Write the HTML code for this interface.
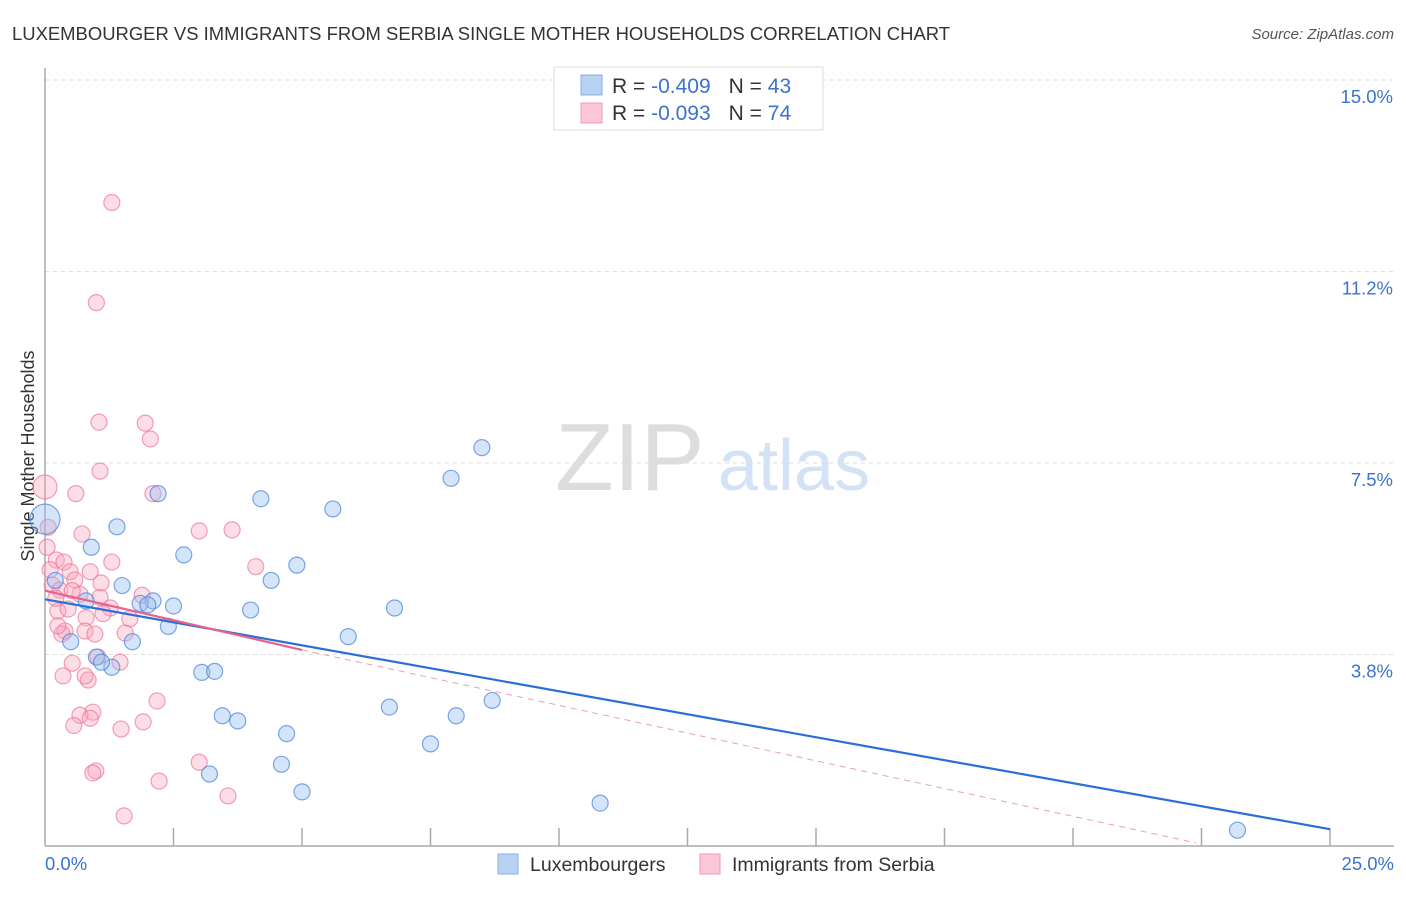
<!DOCTYPE html>
<html><head><meta charset="utf-8"><style>
body{margin:0;background:#fff;font-family:"Liberation Sans",sans-serif;}
svg text{font-family:"Liberation Sans",sans-serif;}
</style></head><body>
<svg id="c" width="1406" height="892">
<text x="12" y="40" font-size="18" fill="#333" textLength="938" lengthAdjust="spacingAndGlyphs">LUXEMBOURGER VS IMMIGRANTS FROM SERBIA SINGLE MOTHER HOUSEHOLDS CORRELATION CHART</text>
<text x="1394" y="39" font-size="15" fill="#555" text-anchor="end" font-style="italic">Source: ZipAtlas.com</text>
<text x="555" y="490" font-size="96" fill="#ddd" font-family="Liberation Serif">ZIP</text>
<text x="718" y="490" font-size="72" fill="#d3e2f5">atlas</text>
<text transform="translate(34,456) rotate(-90)" font-size="18" fill="#333" text-anchor="middle">Single Mother Households</text>
<g id="grid"></g><g id="pts"></g><g id="lines"></g>
<g>
<rect x="554" y="67" width="269" height="63" fill="#fff" stroke="#ddd"/>
<rect x="581" y="75" width="21" height="20" fill="#b8d2f3" stroke="#88aee6"/>
<rect x="581" y="103" width="21" height="20" fill="#fcc8d7" stroke="#f09ab3"/>
<text x="612" y="93" font-size="21" fill="#333">R = <tspan fill="#3a73d0">-0.409</tspan><tspan dx="18">N = </tspan><tspan fill="#3a73d0">43</tspan></text>
<text x="612" y="120" font-size="21" fill="#333">R = <tspan fill="#3a73d0">-0.093</tspan><tspan dx="18">N = </tspan><tspan fill="#3a73d0">74</tspan></text>
</g>
<g>
<rect x="498" y="854" width="20" height="20" fill="#b8d2f3" stroke="#88aee6"/>
<text x="530" y="871" font-size="19.5" fill="#333">Luxembourgers</text>
<rect x="700" y="854" width="20" height="20" fill="#fcc8d7" stroke="#f09ab3"/>
<text x="732" y="871" font-size="19.5" fill="#333">Immigrants from Serbia</text>
</g>
</svg>
<script>
const yTicks=[15.0,11.25,7.5,3.75];
const yTickLabels=["15.0%","11.2%","7.5%","3.8%"];
const xTickLabels=["0.0%","25.0%"];
const luxX=[0,1.4,0.9,2.7,2.2,4.2,5.6,8.5,7.9,1.5,2.1,1.85,2.5,2.0,0.8,2.4,1.7,0.5,4.0,6.8,5.9,4.4,4.9,1.0,1.3,1.1,3.05,3.3,3.45,3.75,4.7,6.7,8.0,8.7,7.5,4.6,3.2,5.0,10.8,23.2,0.2];
const luxY=[6.4,6.25,5.85,5.7,6.9,6.8,6.6,7.8,7.2,5.1,4.8,4.75,4.7,4.72,4.8,4.3,4.0,4.0,4.62,4.66,4.1,5.2,5.5,3.7,3.5,3.6,3.4,3.42,2.55,2.45,2.2,2.72,2.55,2.85,2.0,1.6,1.41,1.06,0.84,0.31,5.2];
const luxR=[15,8,8,8,8,8,8,8,8,8,8,8,8,8,8,8,8,8,8,8,8,8,8,8,8,8,8,8,8,8,8,8,8,8,8,8,8,8,8,8,8];
const srbX=[1.3,1.0,1.05,1.95,2.05,1.07,0.6,2.1,0,0.06,0.72,3.0,3.64,0.22,0.37,1.3,4.1,0.1,0.49,0.88,0.14,0.58,1.09,0.29,0.68,1.07,1.89,0.25,0.45,1.27,0.8,1.65,0.39,0.78,0.97,1.56,0.33,0.25,0.53,1.46,1.03,0.35,0.84,0.78,2.18,0.93,0.68,0.56,0.88,1.91,1.48,3.0,0.99,0.93,2.22,3.56,1.54,0.21,0.53,0.04,1.13];
const srbY=[12.6,10.64,8.3,8.28,7.97,7.34,6.9,6.9,7.03,6.24,6.11,6.17,6.19,5.6,5.56,5.56,5.47,5.41,5.37,5.37,5.11,5.21,5.15,5.01,4.93,4.87,4.91,4.6,4.64,4.66,4.47,4.45,4.21,4.21,4.15,4.17,4.15,4.31,3.58,3.6,3.7,3.33,3.25,3.33,2.84,2.62,2.56,2.36,2.5,2.43,2.29,1.64,1.47,1.43,1.27,0.98,0.59,4.85,5.0,5.85,4.55];
const blueLine=[[0,4.83],[25,0.33]];
const pinkLine=[[0,5.0],[5,3.84]];
const pinkDash=[[5,3.84],[22.4,0.06]];
const X=v=>45+51.4*v, Y=v=>846-51.07*v;
const ns="http://www.w3.org/2000/svg";
function mk(t,a,p){const e=document.createElementNS(ns,t);for(const k in a)e.setAttribute(k,a[k]);p.appendChild(e);return e;}
const g=document.getElementById('grid');
yTicks.forEach((t,i)=>{
 const l=mk('line',{x1:45,x2:1394,y1:Y(t),y2:Y(t),stroke:'#ddd','stroke-dasharray':'4,4'},g);
 
 
 const tx=mk('text',{x:1393,y:Y(t)+23,'font-size':18.5,fill:'#3a73d0','text-anchor':'end'},g);
 tx.textContent=yTickLabels[i];
 
 
});
const ax=mk('line',{x1:45,x2:45,y1:68,y2:846,stroke:'#aaa','stroke-width':1.5},g);


const bx=mk('line',{x1:45,x2:1394,y1:846,y2:846,stroke:'#aaa','stroke-width':1.5},g);


for(let i=1;i<=10;i++){const t=mk('line',{x1:X(i*2.5),x2:X(i*2.5),y1:828,y2:846,stroke:'#aaa','stroke-width':1.5},g);
 
 }
[[0,'start',45],[25,'end',1394]].forEach((d,i)=>{const t=mk('text',{x:d[2],y:870,'font-size':18.5,fill:'#3a73d0','text-anchor':d[1]},g);t.textContent=xTickLabels[i];
 
 });
const p=document.getElementById('pts');
srbX.forEach((v,i)=>{const c=mk('circle',{cx:X(v),cy:Y(srbY[i]),r:i==8?12:8,fill:'rgba(248,160,186,0.35)',stroke:'rgba(236,120,155,0.7)','stroke-width':1.2},p);
 
 });
luxX.forEach((v,i)=>{const c=mk('circle',{cx:X(v),cy:Y(luxY[i]),r:luxR[i],fill:'rgba(150,190,240,0.4)',stroke:'rgba(70,130,220,0.7)','stroke-width':1.2},p);
 
 });
const L=document.getElementById('lines');
const a=mk('line',{x1:X(blueLine[0][0]),y1:Y(blueLine[0][1]),x2:X(blueLine[1][0]),y2:Y(blueLine[1][1]),stroke:'#2a6fd6','stroke-width':2.2},L);


const b=mk('line',{x1:X(pinkLine[0][0]),y1:Y(pinkLine[0][1]),x2:X(pinkLine[1][0]),y2:Y(pinkLine[1][1]),stroke:'#e8628f','stroke-width':2.2},L);


const d=mk('line',{x1:X(pinkDash[0][0]),y1:Y(pinkDash[0][1]),x2:X(pinkDash[1][0]),y2:Y(pinkDash[1][1]),stroke:'#e8a0b8','stroke-width':1,'stroke-dasharray':'6,5'},L);


</script>
</body></html>
